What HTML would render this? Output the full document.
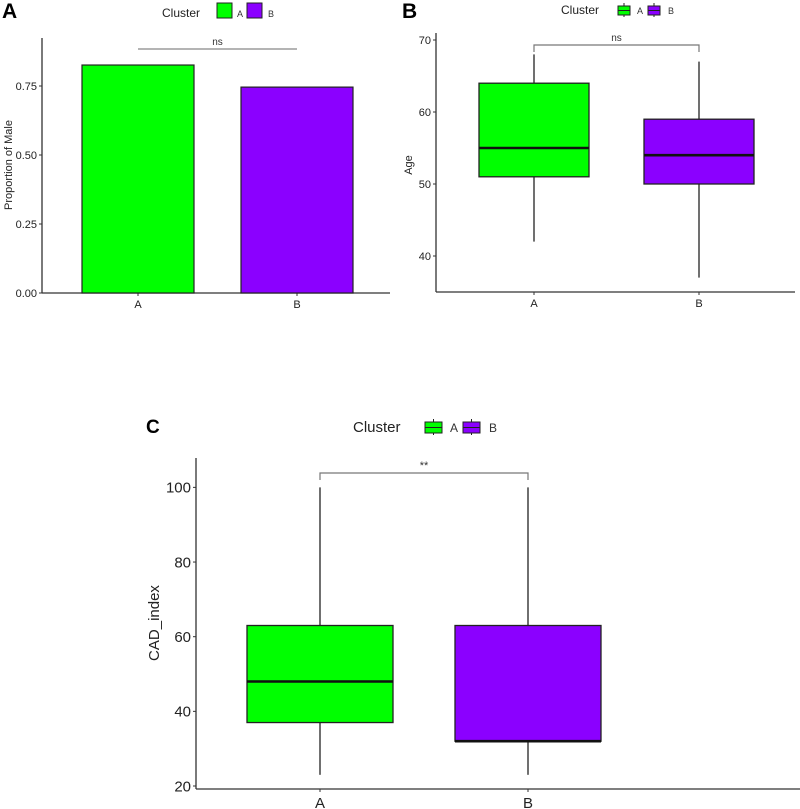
<!DOCTYPE html>
<html><head><meta charset="utf-8">
<style>body{margin:0;background:#fff}svg{display:block;font-family:"Liberation Sans",Arial,sans-serif}</style>
</head><body>
<svg id="fig" width="800" height="809" viewBox="0 0 800 809"></svg>
<script>
const categories = ["A","B"];
const colors = ["#00FF00","#8B00FF"];
// Panel A
const maleProportion = [0.826, 0.746];
const ticksA = [0, 0.25, 0.5, 0.75];
const tickLabelsA = ["0.00","0.25","0.50","0.75"];
// Panel B (age): [min, q1, median, q3, max]
const ageA = [42, 51, 55, 64, 68];
const ageB = [37, 50, 54, 59, 67];
const ticksB = [40, 50, 60, 70];
// Panel C (CAD_index)
const cadA = [23, 37, 48, 63, 100];
const cadB = [23, 32, 32, 63, 100];
const ticksC = [20, 40, 60, 80, 100];

const svg = document.getElementById('fig');
const NS = 'http://www.w3.org/2000/svg';
function mk(tag, attrs, name, parent, text){
  const e = document.createElementNS(NS, tag);
  for (const k in attrs) e.setAttribute(k, attrs[k]);
  
  
  if (text !== undefined) e.textContent = text;
  (parent || svg).appendChild(e);
  return e;
}
function panel(cfg){
  const g = mk('g', {}, cfg.id + '-panel');
  const y = v => cfg.y0 - (v - cfg.vmin) * cfg.k;
  mk('text', {x: cfg.letterX, y: cfg.letterY, 'font-size': cfg.letterSize, 'font-weight': 'bold', fill: '#000'}, cfg.id + '-panel-label', g, cfg.letter);
  // legend
  mk('text', {x: cfg.leg.x, y: cfg.leg.y, 'font-size': cfg.leg.fs, fill: '#222'}, 'legend-title', g, 'Cluster');
  categories.forEach((c, i) => {
    const kx = cfg.leg.keys[i];
    if (cfg.leg.box) {
      mk('line', {x1: kx + cfg.leg.kw/2, x2: kx + cfg.leg.kw/2, y1: cfg.leg.y - cfg.leg.kh - 2, y2: cfg.leg.y + 3, stroke: '#222', 'stroke-width': 1}, 'legend-key-whisker-' + c, g);
    }
    mk('rect', {x: kx, y: cfg.leg.y - cfg.leg.kh + 1, width: cfg.leg.kw, height: cfg.leg.kh, fill: colors[i], stroke: '#222', 'stroke-width': 1}, 'legend-key-' + c, g);
    if (cfg.leg.box) mk('line', {x1: kx, x2: kx + cfg.leg.kw, y1: cfg.leg.y - cfg.leg.kh/2 + 1, y2: cfg.leg.y - cfg.leg.kh/2 + 1, stroke: '#222', 'stroke-width': 1}, 'legend-key-median-' + c, g);
    mk('text', {x: cfg.leg.labels[i], y: cfg.leg.y, 'font-size': cfg.leg.fs - 3, fill: '#333'}, 'legend-label-' + c, g, c);
  });
  // axes
  mk('line', {x1: cfg.x0, x2: cfg.x0, y1: cfg.ytop, y2: cfg.y0, stroke: '#333', 'stroke-width': 1.3}, 'y-axis-line', g);
  mk('line', {x1: cfg.x0, x2: cfg.xend, y1: cfg.y0, y2: cfg.y0, stroke: '#333', 'stroke-width': 1.3}, 'x-axis-line', g);
  cfg.ticks.forEach((t, i) => {
    mk('line', {x1: cfg.x0 - 3, x2: cfg.x0, y1: y(t), y2: y(t), stroke: '#333'}, 'y-tick', g);
    mk('text', {x: cfg.x0 - 5, y: y(t) + cfg.tfs*0.35, 'font-size': cfg.tfs, 'text-anchor': 'end', fill: '#222'}, 'y-tick-label', g, cfg.tickLabels ? cfg.tickLabels[i] : t);
  });
  categories.forEach((c, i) => {
    const cx = cfg.centers[i];
    mk('line', {x1: cx, x2: cx, y1: cfg.y0, y2: cfg.y0 + 3, stroke: '#333'}, 'x-tick', g);
    mk('text', {x: cx, y: cfg.y0 + 4 + cfg.tfs, 'font-size': cfg.tfs, 'text-anchor': 'middle', fill: '#222'}, 'x-tick-label-' + c, g, c);
  });
  mk('text', {x: 0, y: 0, 'font-size': cfg.lfs, 'text-anchor': 'middle', fill: '#222', transform: `translate(${cfg.ylab[0]},${cfg.ylab[1]}) rotate(-90)`}, 'y-axis-title', g, cfg.ytitle);
  // marks
  categories.forEach((c, i) => {
    const cx = cfg.centers[i], hw = cfg.hw;
    if (cfg.bars) {
      const v = cfg.bars[i];
      mk('rect', {x: cx - hw, y: y(v), width: 2*hw, height: cfg.y0 - y(v), fill: colors[i], stroke: '#222', 'stroke-width': 1.2}, 'bar-' + c, g);
    } else {
      const s = cfg.boxes[i];
      mk('line', {x1: cx, x2: cx, y1: y(s[0]), y2: y(s[1]), stroke: '#222', 'stroke-width': 1.3}, 'lower-whisker-' + c, g);
      mk('line', {x1: cx, x2: cx, y1: y(s[3]), y2: y(s[4]), stroke: '#222', 'stroke-width': 1.3}, 'upper-whisker-' + c, g);
      mk('rect', {x: cx - hw, y: y(s[3]), width: 2*hw, height: y(s[1]) - y(s[3]), fill: colors[i], stroke: '#222', 'stroke-width': 1.3}, 'box-' + c, g);
      mk('line', {x1: cx - hw, x2: cx + hw, y1: y(s[2]), y2: y(s[2]), stroke: '#111', 'stroke-width': 2.6}, 'median-' + c, g);
    }
  });
  // significance
  const sb = cfg.sig;
  if (cfg.bars) {
    mk('line', {x1: sb.x1, x2: sb.x2, y1: sb.y, y2: sb.y, stroke: '#888', 'stroke-width': 1.3}, 'significance-bar', g);
  } else {
    mk('path', {d: `M${sb.x1},${sb.y+7}V${sb.y}H${sb.x2}V${sb.y+7}`, fill: 'none', stroke: '#777', 'stroke-width': 1.2}, 'significance-bracket', g);
  }
  mk('text', {x: (sb.x1 + sb.x2)/2, y: sb.y - 4, 'font-size': sb.fs, 'text-anchor': 'middle', fill: '#333'}, 'significance-label', g, sb.label);
}
panel({id:'a', letter:'A', letterX:2, letterY:18, letterSize:21,
  leg:{x:162,y:17,fs:12,keys:[217,247],labels:[237,268],kw:15,kh:15,box:false},
  x0:42, xend:390, ytop:38, y0:293, vmin:0, k:276, ticks:ticksA, tickLabels:tickLabelsA, tfs:11, lfs:11,
  ylab:[12,165], ytitle:'Proportion of Male', centers:[138,297], hw:56, bars:maleProportion,
  sig:{x1:138,x2:297,y:49,label:'ns',fs:10}});
panel({id:'b', letter:'B', letterX:402, letterY:18, letterSize:21,
  leg:{x:561,y:14,fs:12,keys:[618,648],labels:[637,668],kw:12,kh:9,box:true},
  x0:436, xend:795, ytop:33, y0:292, vmin:35, k:7.2, ticks:ticksB, tfs:11, lfs:11,
  ylab:[412,165], ytitle:'Age', centers:[534,699], hw:55, boxes:[ageA, ageB],
  sig:{x1:534,x2:699,y:45,label:'ns',fs:10}});
panel({id:'c', letter:'C', letterX:146, letterY:433, letterSize:19,
  leg:{x:353,y:432,fs:15,keys:[425,463],labels:[450,489],kw:17,kh:11,box:true},
  x0:196, xend:800, ytop:458, y0:789, vmin:19.2, k:3.733, ticks:ticksC, tfs:15, lfs:15,
  ylab:[159,623], ytitle:'CAD_index', centers:[320,528], hw:73, boxes:[cadA, cadB],
  sig:{x1:320,x2:528,y:473,label:'**',fs:11}});
</script>
</body></html>
